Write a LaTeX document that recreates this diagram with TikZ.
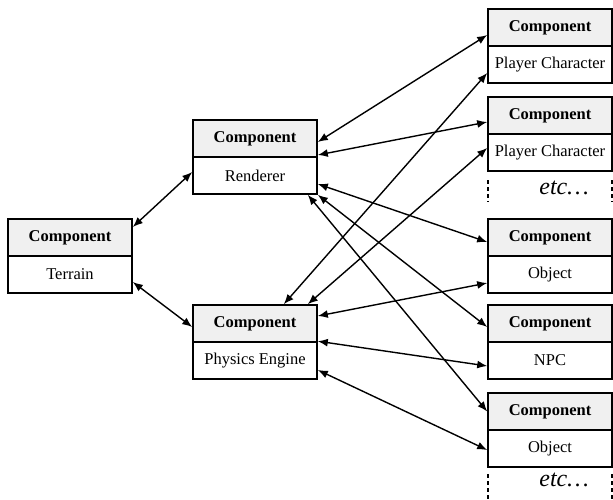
\documentclass[tikz,border=0pt]{standalone}
\usepackage{fontspec}
\setmainfont{Liberation Serif}
\usetikzlibrary{arrows.meta}
\tikzset{
  hdr/.style={draw, line width=1.6pt, fill=black!6, minimum width=124pt, minimum height=37pt, inner sep=0pt, font=\fontsize{16.5}{19}\selectfont\bfseries},
  bdy/.style={draw, line width=1.6pt, fill=white, minimum width=124pt, minimum height=37pt, inner sep=0pt, font=\fontsize{16.5}{19}\selectfont},
  link/.style={line width=1.4pt, {Latex[length=10pt,width=8pt]}-{Latex[length=10pt,width=8pt]}},
  etcline/.style={line width=1.6pt, dash pattern=on 4pt off 3pt},
  etctext/.style={font=\fontsize{24}{28}\selectfont\itshape, inner sep=0pt}
}
\begin{document}
\begin{tikzpicture}[x=1pt,y=-1pt]
\useasboundingbox (0,0) rectangle (613,499);
% left column
\node[hdr] (terH) at (70,237.5) {Component};
\node[bdy] (terB) at (70,274.5) {Terrain};
% middle column
\node[hdr] (renH) at (255,138.5) {Component};
\node[bdy] (renB) at (255,175.5) {Renderer};
\node[hdr] (phyH) at (255,323.5) {Component};
\node[bdy] (phyB) at (255,360.5) {Physics Engine};
% right column
\node[hdr] (pc1H) at (550,27.5) {Component};
\node[bdy] (pc1B) at (550,64.5) {Player Character};
\node[hdr] (pc2H) at (550,115.5) {Component};
\node[bdy] (pc2B) at (550,152.5) {Player Character};
\node[hdr] (ob1H) at (550,237.5) {Component};
\node[bdy] (ob1B) at (550,274.5) {Object};
\node[hdr] (npcH) at (550,323.5) {Component};
\node[bdy] (npcB) at (550,360.5) {NPC};
\node[hdr] (ob2H) at (550,411.5) {Component};
\node[bdy] (ob2B) at (550,448.5) {Object};
% etc markers
\node[etctext] (etc1) at (564,188) {etc\ldots};
\node[etctext] (etc2) at (564,480) {etc\ldots};
\draw[etcline] (488,180) -- (488,202);
\draw[etcline] (612,180) -- (612,202);
\draw[etcline] (488,474) -- (488,499);
\draw[etcline] (612,474) -- (612,499);
% connectors: terrain
\draw[link] ([yshift=10.5pt]terH.east) -- ([yshift=3.5pt]renB.west);
\draw[link] ([yshift=-7.5pt]terB.east) -- ([yshift=-3.5pt]phyH.west);
% connectors: renderer
\draw[link] ([yshift=-3.5pt]renH.east) -- ([yshift=-7.5pt]pc1H.west);
\draw[link] ([yshift=-16.5pt]renH.east) -- ([yshift=-6.5pt]pc2H.west);
\draw[link] ([yshift=-8.5pt]renB.east) -- ([yshift=-4.5pt]ob1H.west);
\draw[link] (renB.south east) -- ([yshift=-3.5pt]npcH.west);
\draw[link] ([xshift=-10pt]renB.south east) -- (ob2H.west);
% connectors: physics engine
\draw[link] ([xshift=-34pt]phyH.north east) -- ([yshift=-8.5pt]pc1B.west);
\draw[link] ([xshift=-10pt]phyH.north east) -- ([yshift=4.5pt]pc2B.west);
\draw[link] ([yshift=7.5pt]phyH.east) -- ([yshift=-8.5pt]ob1B.west);
\draw[link] (phyB.north east) -- ([yshift=-5.5pt]npcB.west);
\draw[link] ([yshift=-9.5pt]phyB.east) -- ([yshift=-1.5pt]ob2B.west);
\end{tikzpicture}
\end{document}
